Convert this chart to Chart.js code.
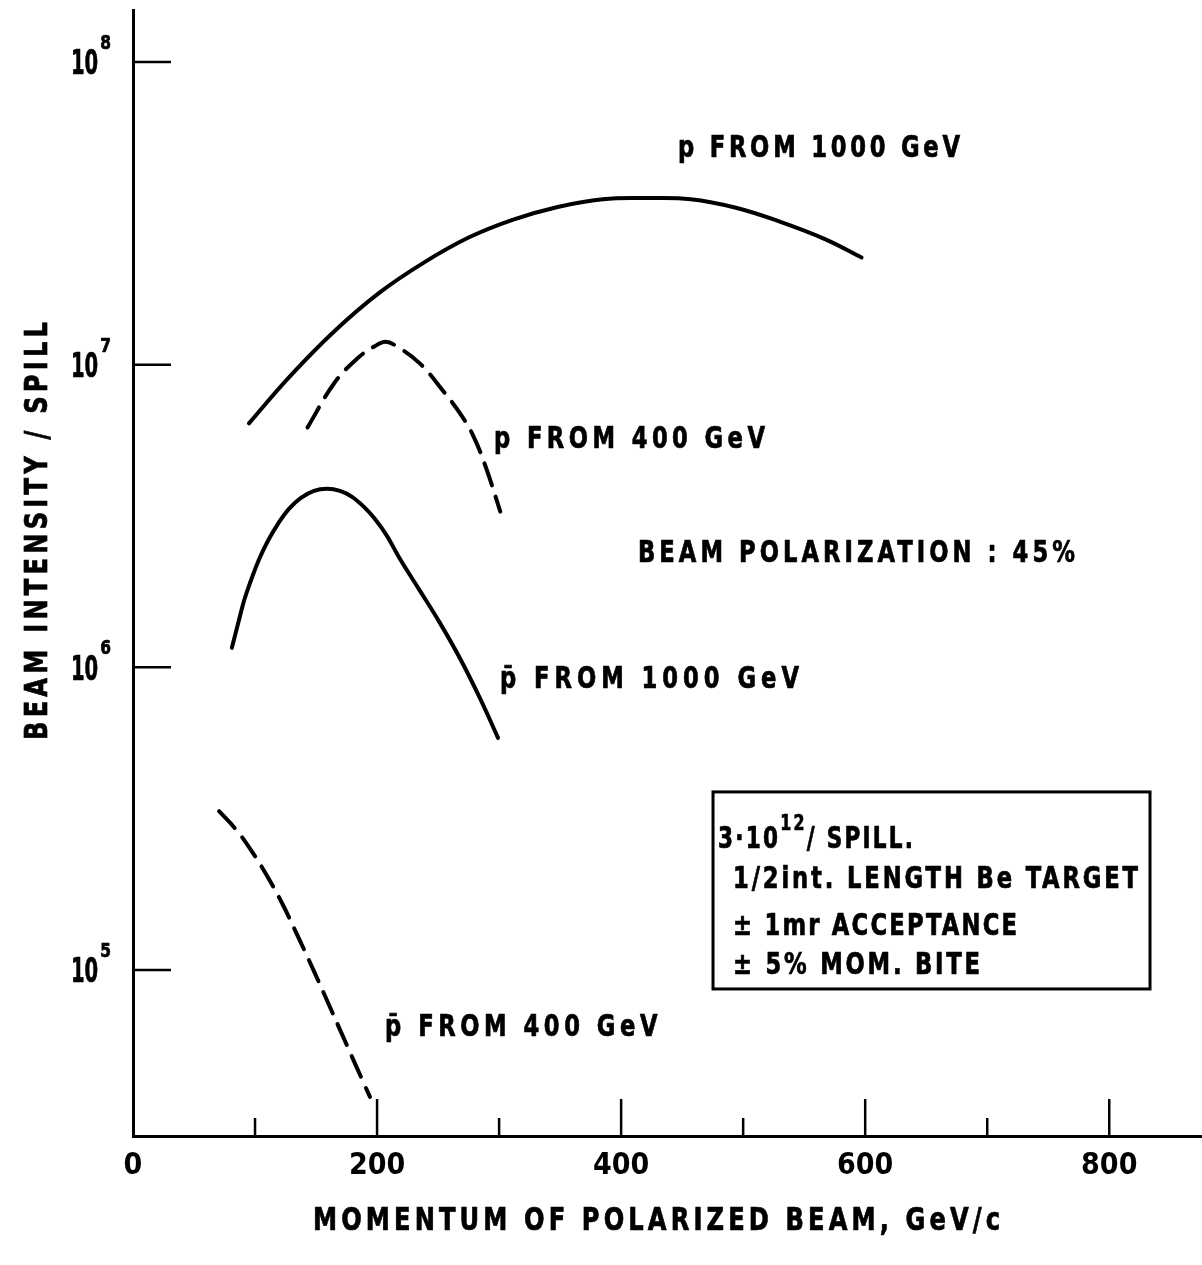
<!DOCTYPE html>
<html><head><meta charset="utf-8">
<script src="https://cdn.jsdelivr.net/npm/chart.js@4.4.1/dist/chart.umd.min.js"></script>
<style>html,body{margin:0;padding:0;background:#fff;} canvas{display:block;}</style>
</head><body>
<canvas id="c" width="1202" height="1265"></canvas>
<script>
// ---------- data ----------
const xTickValues = [0, 200, 400, 600, 800];
const xMinorTickValues = [100, 300, 500, 700];
const yTickValues = [1e5, 1e6, 1e7, 1e8];
const yTickBase = '10';
const yTickExponents = ['5', '6', '7', '8'];

const pFrom1000X = [95, 128, 165, 202, 238, 275, 311, 348, 385, 421, 457, 494, 530, 567, 597];
const pFrom1000Y = [6.4e6, 9.1e6, 1.29e7, 1.73e7, 2.17e7, 2.63e7, 3.01e7, 3.32e7, 3.52e7, 3.55e7, 3.52e7, 3.3e7, 2.97e7, 2.6e7, 2.26e7];

const pFrom400X = [143, 165, 184, 198, 207, 216, 235, 253, 268, 279, 289, 301];
const pFrom400Y = [6.2e6, 8.7e6, 1.05e7, 1.15e7, 1.19e7, 1.15e7, 1.01e7, 8.3e6, 6.9e6, 5.8e6, 4.6e6, 3.27e6];

const pbarFrom1000X = [81, 86, 91, 96.7, 103, 110.6, 118.8, 127.8, 137.6, 148.3, 159, 169.6, 179.5, 189.3, 198.3, 208.1, 218.8, 235.2, 251.6, 268, 284.4, 299.1];
const pbarFrom1000Y = [1.16e6, 1.39e6, 1.66e6, 1.94e6, 2.26e6, 2.62e6, 2.98e6, 3.34e6, 3.63e6, 3.83e6, 3.89e6, 3.83e6, 3.66e6, 3.39e6, 3.09e6, 2.72e6, 2.28e6, 1.79e6, 1.4e6, 1.07e6, 7.9e5, 5.85e5];

const pbarFrom400X = [70.5, 83.6, 96.7, 109.8, 122.9, 136, 149.1, 162.2, 175.3, 188.4, 194.2];
const pbarFrom400Y = [3.35e5, 2.94e5, 2.49e5, 2.05e5, 1.64e5, 1.27e5, 9.75e4, 7.42e4, 5.64e4, 4.29e4, 3.81e4];

const curveLabels = ['p FROM 1000 GeV', 'p FROM 400 GeV', 'BEAM POLARIZATION : 45%', 'p̄ FROM 1000 GeV', 'p̄ FROM 400 GeV'];
const boxFirstLine = [{t: '3·10'}, {t: '12', sup: true}, {t: '/ SPILL.'}];
const boxLines = ['1/2int. LENGTH Be TARGET', '± 1mr ACCEPTANCE', '± 5% MOM. BITE'];
const xTitle = 'MOMENTUM OF POLARIZED BEAM, GeV/c';
const yTitle = 'BEAM INTENSITY / SPILL';

// ---------- layout / style (not data) ----------
const FONT = "'DejaVu Sans Condensed','Liberation Sans Narrow','DejaVu Sans',sans-serif";
const curveLabelPos = [
  {x: 446.6, y: 5.28e7, w: 282},
  {x: 295.8, y: 5.77e6, w: 271},
  {x: 413.8, y: 2.42e6, w: 437},
  {x: 300.7, y: 9.29e5, w: 304},
  {x: 206.5, y: 6.59e4, w: 277}
];
const boxRect = {x0: 475.3, x1: 833.4, y0: 3.877e5, y1: 8.66e4};
const boxFirstPos = {x: 479.4, y: 2.753e5, w: 195};
const boxLinePos = [
  {x: 491.7, y: 2.03e5, w: 405},
  {x: 491.7, y: 1.42e5, w: 284},
  {x: 491.7, y: 1.055e5, w: 247}
];

function pts(xs, ys) { return xs.map((x, i) => ({x: x, y: ys[i]})); }

// rich text: segments [{t, sup}], left edge x, caps centred on y, spread to width
function fitRich(ctx, segs, x, y, width, size, sx, supSize, supDy, supSx, supGap) {
  supSx = supSx || sx; supGap = supGap || 0;
  ctx.save();
  ctx.fillStyle = '#000';
  ctx.strokeStyle = '#000';
  ctx.lineWidth = 0.7;
  ctx.textAlign = 'left';
  ctx.textBaseline = 'alphabetic';
  ctx.letterSpacing = '0px';
  let natural = 0, n = 0;
  segs.forEach(s => {
    ctx.font = 'bold ' + (s.sup ? supSize : size) + 'px ' + FONT;
    s._w = ctx.measureText(s.t).width;
    natural += s._w * (s.sup ? supSx : sx) / sx; n += [...s.t].length;
  });
  const ls = width == null ? 0 : (n > 1 ? (width / sx - natural) / (n - 1) : 0);
  let cx = x;
  segs.forEach(s => {
    const sz = s.sup ? supSize : size;
    const k = s.sup ? supSx : sx;
    if (s.sup) cx += supGap;
    ctx.font = 'bold ' + sz + 'px ' + FONT;
    ctx.letterSpacing = (ls * sx / k) + 'px';
    ctx.save();
    ctx.translate(cx, y + (s.sup ? supDy : 0) + sz * 0.365);
    ctx.scale(k, 1);
    ctx.fillText(s.t, 0, 0);
    ctx.strokeText(s.t, 0, 0);
    ctx.restore();
    cx += s._w * k + ls * sx * [...s.t].length;
    if (s.sup) cx += supGap;
  });
  ctx.restore();
}
function fitText(ctx, text, x, y, width, size, sx) {
  fitRich(ctx, [{t: text}], x, y, width, size, sx || 0.84, size, 0);
}

const decor = {
  id: 'decor',
  beforeDraw(chart) {
    const ctx = chart.ctx;
    ctx.save();
    ctx.fillStyle = '#fff';
    ctx.fillRect(0, 0, chart.width, chart.height);
    ctx.restore();
  },
  afterDraw(chart) {
    const ctx = chart.ctx;
    const xs = chart.scales.x, ys = chart.scales.y;
    const area = chart.chartArea;
    ctx.save();
    ctx.strokeStyle = '#000';
    ctx.lineWidth = 2.5;
    yTickValues.forEach((v, i) => {
      const py = ys.getPixelForValue(v);
      ctx.beginPath(); ctx.moveTo(area.left, py); ctx.lineTo(area.left + 38, py); ctx.stroke();
      fitRich(ctx, [{t: yTickBase}, {t: yTickExponents[i], sup: true}], 71, py, null, 34, 0.64, 19, -20, 0.9, 2);
      ctx.strokeStyle = '#000';
      ctx.lineWidth = 2.5;
    });
    xTickValues.forEach(v => {
      if (v === 0) return;
      const px = xs.getPixelForValue(v);
      ctx.beginPath(); ctx.moveTo(px, area.bottom); ctx.lineTo(px, area.bottom - 37); ctx.stroke();
    });
    xMinorTickValues.forEach(v => {
      const px = xs.getPixelForValue(v);
      ctx.beginPath(); ctx.moveTo(px, area.bottom); ctx.lineTo(px, area.bottom - 18); ctx.stroke();
    });
    curveLabels.forEach((t, i) => {
      const p = curveLabelPos[i];
      fitText(ctx, t, xs.getPixelForValue(p.x), ys.getPixelForValue(p.y), p.w, 30);
    });
    const bx0 = xs.getPixelForValue(boxRect.x0), bx1 = xs.getPixelForValue(boxRect.x1);
    const by0 = ys.getPixelForValue(boxRect.y0), by1 = ys.getPixelForValue(boxRect.y1);
    ctx.strokeStyle = '#000';
    ctx.lineWidth = 3;
    ctx.strokeRect(bx0, by0, bx1 - bx0, by1 - by0);
    fitRich(ctx, boxFirstLine, xs.getPixelForValue(boxFirstPos.x), ys.getPixelForValue(boxFirstPos.y),
      boxFirstPos.w, 30, 0.8, 22, -15);
    boxLines.forEach((t, i) => {
      const p = boxLinePos[i];
      fitText(ctx, t, xs.getPixelForValue(p.x), ys.getPixelForValue(p.y), p.w, 30);
    });
    fitText(ctx, xTitle, 313, 1218, 687, 32);
    ctx.save();
    ctx.translate(35, 740);
    ctx.rotate(-Math.PI / 2);
    fitText(ctx, yTitle, 0, 0, 418, 32);
    ctx.restore();
    ctx.restore();
  }
};

const lineBase = {borderColor: '#000', borderWidth: 4, pointRadius: 0, fill: false,
  tension: 0.4, borderCapStyle: 'round'};

new Chart(document.getElementById('c'), {
  type: 'line',
  data: {
    datasets: [
      Object.assign({label: curveLabels[0], data: pts(pFrom1000X, pFrom1000Y)}, lineBase),
      Object.assign({label: curveLabels[1], data: pts(pFrom400X, pFrom400Y), borderDash: [23, 12]}, lineBase),
      Object.assign({label: curveLabels[3], data: pts(pbarFrom1000X, pbarFrom1000Y)}, lineBase),
      Object.assign({label: curveLabels[4], data: pts(pbarFrom400X, pbarFrom400Y), borderDash: [23, 12]}, lineBase)
    ]
  },
  options: {
    responsive: false,
    animation: false,
    devicePixelRatio: 1,
    events: [],
    layout: {padding: {top: 10, right: 0, left: 0, bottom: 0}},
    plugins: {legend: {display: false}, tooltip: {enabled: false}},
    scales: {
      x: {
        type: 'linear', min: 0, max: 876,
        afterFit(s) { s.height = 129; s.paddingLeft = 0; s.paddingRight = 0; },
        afterBuildTicks(s) { s.ticks = xTickValues.map(v => ({value: v})); },
        grid: {display: true, drawOnChartArea: false, drawTicks: false},
        border: {display: true, color: '#000', width: 3},
        ticks: {color: '#000', padding: 12, maxRotation: 0, autoSkip: false,
          font: {family: FONT, size: 30, weight: 'bold'},
          callback: v => String(v)}
      },
      y: {
        type: 'logarithmic', min: 2.83e4, max: 1.485e8,
        afterFit(s) { s.width = 133; s.paddingTop = 0; s.paddingBottom = 0; },
        afterBuildTicks(s) { s.ticks = yTickValues.map(v => ({value: v})); },
        grid: {display: true, drawOnChartArea: false, drawTicks: false},
        border: {display: true, color: '#000', width: 3},
        ticks: {display: false}
      }
    }
  },
  plugins: [decor]
});
</script>
</body></html>
